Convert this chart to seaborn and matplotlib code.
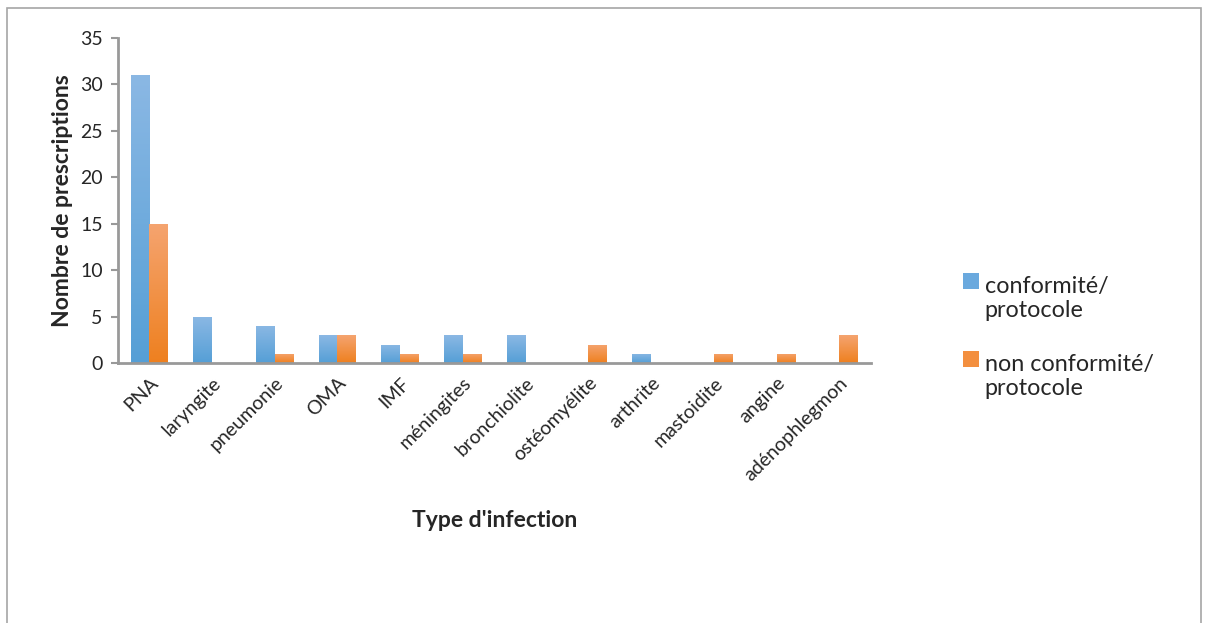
import numpy as np
import pandas as pd
import matplotlib
matplotlib.use("Agg")
import matplotlib.pyplot as plt
import seaborn as sns
from matplotlib.colors import LinearSegmentedColormap
from matplotlib.patches import Rectangle
from matplotlib.legend_handler import HandlerPatch

# Data
infections = ["PNA", "laryngite", "pneumonie", "OMA", "IMF", "méningites",
              "bronchiolite", "ostéomyélite", "arthrite", "mastoidite",
              "angine", "adénophlegmon"]
conforme = [31, 5, 4, 3, 2, 3, 3, 0, 1, 0, 0, 0]
non_conforme = [15, 0, 1, 3, 1, 1, 0, 2, 0, 1, 1, 3]
series_names = ["conformité/\nprotocole", "non conformité/\nprotocole"]

df = pd.DataFrame({
    "infection": infections * 2,
    "valeur": conforme + non_conforme,
    "serie": [series_names[0]] * len(infections) + [series_names[1]] * len(infections),
})

sns.set_style("white")
plt.rcParams["font.family"] = ["Lato", "DejaVu Sans"]

fig = plt.figure(figsize=(12.1, 6.23), dpi=100)
ax = fig.add_axes([0.0975, 0.417, 0.622, 0.522])

palette = {series_names[0]: "#6aa9de", series_names[1]: "#f38f3f"}
sns.barplot(data=df, x="infection", y="valeur", hue="serie", palette=palette,
            width=0.6, ax=ax, saturation=1, linewidth=0)

# gradient fill (light on top, darker at the bottom) like the original
grads = {
    series_names[0]: LinearSegmentedColormap.from_list("b", ["#559fd6", "#8bb8e4"]),
    series_names[1]: LinearSegmentedColormap.from_list("o", ["#ee801f", "#f5a470"]),
}
grad = np.linspace(0, 1, 256).reshape(-1, 1)
for cont, name in zip(ax.containers, series_names):
    for bar in cont:
        h = bar.get_height()
        if h <= 0:
            continue
        x0, w = bar.get_x(), bar.get_width()
        im = ax.imshow(grad, cmap=grads[name], origin="lower", aspect="auto",
                       extent=[x0, x0 + w, 0, h], zorder=bar.get_zorder() + 0.1)
        im.set_clip_path(bar)

ax.set_xlim(-0.5, len(infections) - 0.5)
ax.set_ylim(0, 35)
ax.set_yticks(range(0, 36, 5))
ax.tick_params(axis="y", length=5, width=1.5, color="#999999", labelsize=14,
               direction="out", left=True, pad=6)
ax.tick_params(axis="x", length=0, labelsize=14, pad=8)
plt.setp(ax.get_xticklabels(), rotation=45, ha="right", rotation_mode="anchor")
ax.set_xlabel("Type d'infection", fontsize=16.5, fontweight="bold", labelpad=19)
ax.set_ylabel("Nombre de prescriptions", fontsize=16.5, fontweight="bold", labelpad=5)

for side in ["top", "right"]:
    ax.spines[side].set_visible(False)
for side in ["left", "bottom"]:
    ax.spines[side].set_color("#999999")
    ax.spines[side].set_linewidth(2)


# legend square sits beside the first line of the two-line label
def top_square(legend, orig_handle, xdescent, ydescent, width, height, fontsize):
    s = 0.67 * fontsize
    return Rectangle((width - s - xdescent, -ydescent + 0.76 * fontsize), s, s)


leg_fs = 16.8
leg = ax.legend(loc="upper left", bbox_to_anchor=(1.094, 0.334), frameon=False,
                fontsize=leg_fs, handlelength=0.7, handleheight=0.7,
                handletextpad=0.25, labelspacing=1.4,
                handler_map={Rectangle: HandlerPatch(patch_func=top_square)})

# outer frame of the chart area
fig.patches.append(Rectangle((7 / 1210, -0.05), 1194 / 1210, 1 - 8 / 623 + 0.05,
                             transform=fig.transFigure, fill=False,
                             edgecolor="#a6a6a6", linewidth=1.2))

fig.savefig("out.png", dpi=100)
